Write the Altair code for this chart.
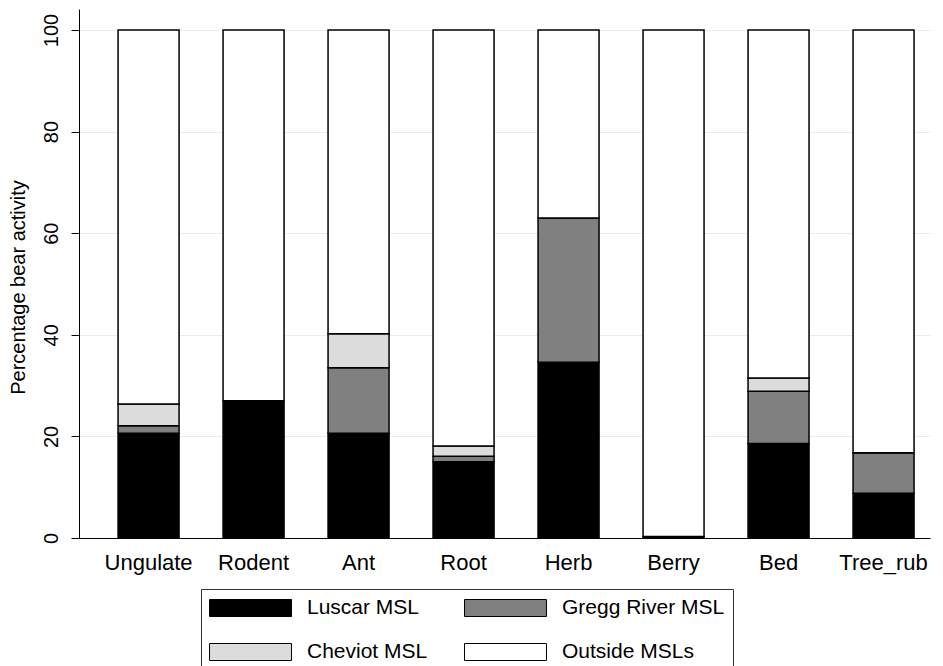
import altair as alt
import pandas as pd

# Foraging / activity categories along the x axis
categories = ["Ungulate", "Rodent", "Ant", "Root", "Herb", "Berry", "Bed", "Tree_rub"]

# Percentage of bear activity falling in each zone, per category
luscar = [20.6, 27.0, 20.6, 15.0, 34.6, 0.3, 18.6, 8.8]
gregg = [1.5, 0.0, 12.9, 1.1, 28.4, 0.0, 10.3, 8.0]
cheviot = [4.3, 0.0, 6.7, 2.0, 0.0, 0.0, 2.6, 0.0]
outside = [73.6, 73.0, 59.8, 81.9, 37.0, 99.7, 68.5, 83.2]

zones = ["Luscar MSL", "Gregg River MSL", "Cheviot MSL", "Outside MSLs"]
zone_colors = ["#000000", "#808080", "#dcdcdc", "#ffffff"]

y_ticks = [0, 20, 40, 60, 80, 100]

rows = []
for k, (zone, vals) in enumerate(zip(zones, [luscar, gregg, cheviot, outside])):
    for cat, v in zip(categories, vals):
        rows.append({"activity": cat, "zone": zone, "pct": v, "stack_order": k})
df = pd.DataFrame(rows)

FONT = "Liberation Sans"

# Wide, flat legend swatch (path is scaled by sqrt(symbolSize) / 2)
SWATCH = "M-4.82,-1L4.82,-1L4.82,1L-4.82,1Z"

# Right-hand legend column gets some trailing room inside the frame
NBSP = "\u00a0" * 7
LABEL_EXPR = (
    "datum.label == 'Gregg River MSL' || datum.label == 'Outside MSLs'"
    f" ? datum.label + '{NBSP}' : datum.label"
)

chart = (
    alt.Chart(df)
    .mark_bar(stroke="black", strokeWidth=1.5)
    .encode(
        x=alt.X(
            "activity:N",
            sort=categories,
            scale=alt.Scale(paddingInner=0.419, paddingOuter=0.262, align=0.71),
            axis=alt.Axis(
                title=None,
                labelAngle=0,
                ticks=False,
                grid=False,
                labelFont=FONT,
                labelFontSize=22,
                labelColor="black",
                labelBaseline="alphabetic",
                labelPadding=31,
                domainColor="black",
                domainWidth=1,
            ),
        ),
        y=alt.Y(
            "pct:Q",
            stack="zero",
            scale=alt.Scale(domain=[0, 104.13], nice=False),
            axis=alt.Axis(
                title="Percentage bear activity",
                values=y_ticks,
                labelAngle=270,
                labelAlign="center",
                labelBaseline="alphabetic",
                labelPadding=14,
                labelFont=FONT,
                labelFontSize=20,
                labelColor="black",
                tickSize=8,
                tickColor="black",
                domainColor="black",
                domainWidth=1,
                grid=True,
                gridColor="#e4edf0",
                gridWidth=1,
                titleFont=FONT,
                titleFontSize=20,
                titleFontWeight="normal",
                titleColor="black",
                titleAngle=270,
                titleAlign="center",
                titleBaseline="alphabetic",
                titleX=-55,
                titleY=278,
            ),
        ),
        color=alt.Color(
            "zone:N",
            scale=alt.Scale(domain=zones, range=zone_colors),
            legend=alt.Legend(
                title=None,
                orient="none",
                direction="horizontal",
                legendX=122,
                legendY=580,
                columns=2,
                columnPadding=35,
                rowPadding=22,
                padding=8.5,
                strokeColor="#333333",
                fillColor="white",
                symbolType=SWATCH,
                symbolSize=289,
                symbolOffset=30.5,
                symbolStrokeColor="black",
                symbolStrokeWidth=1,
                symbolOpacity=1,
                labelFont=FONT,
                labelFontSize=21,
                labelColor="black",
                labelOffset=46,
                labelLimit=400,
                labelExpr=LABEL_EXPR,
            ),
        ),
        order=alt.Order("stack_order:Q"),
    )
    .properties(width=851, height=529)
    .configure(
        autosize=alt.AutoSizeParams(type="none"),
        padding={"left": 79, "top": 9, "right": 13, "bottom": 128},
        background="white",
    )
    .configure_view(stroke=None)
)

chart.save("out.html", embed_options={"renderer": "svg", "actions": False})
